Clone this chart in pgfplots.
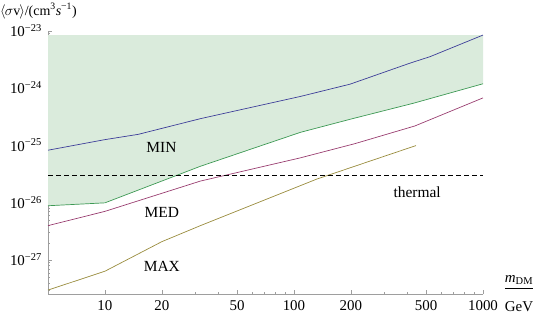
\documentclass[border=0pt]{standalone}
\usepackage{fontspec}
\setmainfont{Liberation Serif}
\usepackage{pgfplots}
\pgfplotsset{compat=1.18}
\definecolor{cMIN}{rgb}{0.24,0.24,0.6}
\definecolor{cMED}{rgb}{0.6,0.24,0.44}
\definecolor{cMAX}{rgb}{0.6,0.55,0.24}
\definecolor{cGRN}{rgb}{0.24,0.6,0.33}
\definecolor{cFILL}{rgb}{0.855,0.922,0.863}
\definecolor{cAX}{rgb}{0.62,0.62,0.62}
\begin{document}
\fontsize{15}{18}\selectfont
\begin{tikzpicture}
\begin{axis}[name=ax,
  scale only axis, width=435bp, height=263bp,
  xmode=log, ymode=log,
  xmin=5, xmax=1000, ymin=2.56e-28, ymax=1e-23,
  axis x line=bottom, axis y line=left,
  axis line style={-, draw=cAX, line width=0.8pt},
  tick style={draw=cAX, line width=0.6pt},
  tick align=inside,
  major tick length=4bp, minor tick length=2.2bp,
  xtick={10,20,50,100,200,500,1000},
  xticklabels={10,20,50,100,200,500,1000},
  minor xtick={30,40,60,70,80,90,300,400,600,700,800,900},
  ytick={1e-27,1e-26,1e-25,1e-24,1e-23},
  yticklabels={10\textsuperscript{−27},10\textsuperscript{−26},10\textsuperscript{−25},10\textsuperscript{−24},10\textsuperscript{−23}},
  minor ytick={3e-28,4e-28,5e-28,6e-28,7e-28,8e-28,9e-28,
    2e-27,3e-27,4e-27,5e-27,6e-27,7e-27,8e-27,9e-27,
    2e-26,3e-26,4e-26,5e-26,6e-26,7e-26,8e-26,9e-26,
    2e-25,3e-25,4e-25,5e-25,6e-25,7e-25,8e-25,9e-25,
    2e-24,3e-24,4e-24,5e-24,6e-24,7e-24,8e-24,9e-24},
  yticklabel style={anchor=base east, yshift=-5.5bp, xshift=-1bp},
  xticklabel style={yshift=-1bp},
  clip=false,
]
% filled region between green curve and top
\addplot[draw=none, fill=cFILL] coordinates {
 (5,8.9e-27) (10,1.0e-26) (32,4.35e-26) (108,1.7e-25) (200,2.9e-25) (430,5.5e-25) (1000,1.2e-24)
 (1000,8.5e-24) (5,8.5e-24)} -- cycle;
% MIN (blue)
\addplot[cMIN, line width=0.7pt] coordinates {
 (5,8.3e-26) (10,1.27e-25) (15,1.57e-25) (32,2.95e-25) (108,7.2e-25) (198,1.18e-24) (411,2.75e-24) (525,3.57e-24) (1000,8.5e-24)};
% green boundary
\addplot[cGRN, line width=0.7pt] coordinates {
 (5,8.9e-27) (10,1.0e-26) (32,4.35e-26) (108,1.7e-25) (200,2.9e-25) (430,5.5e-25) (1000,1.2e-24)};
% MED (magenta)
\addplot[cMED, line width=0.7pt] coordinates {
 (5,4.0e-27) (10,7.1e-27) (32,2.4e-26) (108,6.1e-26) (210,1.08e-25) (436,2.2e-25) (1000,6.8e-25)};
% MAX (olive)
\addplot[cMAX, line width=0.7pt] coordinates {
 (5,3.0e-28) (10,6.4e-28) (20,2.1e-27) (32,4.0e-27) (132,2.6e-26) (394,8.8e-26) (442,1.0e-25)};
% thermal
\addplot[black, line width=0.8pt, dash pattern=on 5bp off 3bp] coordinates {(5,3e-26) (1000,3e-26)};
\node at (axis cs:19.9,9.2e-26) {\fontsize{15.5}{18}\selectfont MIN};
\node at (axis cs:20,6.8e-27) {\fontsize{15.5}{18}\selectfont MED};
\node at (axis cs:20,7.7e-28) {\fontsize{15.5}{18}\selectfont MAX};
\node[anchor=base] at (axis cs:448,1.25e-26) {\fontsize{15.5}{18}\selectfont thermal};
\node[anchor=base west, inner sep=0pt] at (rel axis cs:0,1) [xshift=-48bp, yshift=16bp] {\fontsize{14}{17}\selectfont$\mathopen{\langle}\kern-1pt\sigma\mathrm{v}\kern-1pt\mathclose{\rangle}$/(cm\textsuperscript{3}\textit{s}\textsuperscript{−1})};
\node[anchor=base, inner sep=0pt] at (rel axis cs:1,0) [xshift=36bp, yshift=-17bp] {\begin{tabular}[b]{@{}c@{}}\textit{m}\textsubscript{DM}\\\hline\rule{0pt}{23bp}GeV\end{tabular}};
\end{axis}
\pgfresetboundingbox
\path[use as bounding box] ([shift={(-48bp,-21bp)}]ax.south west) rectangle ([shift={(57bp,31bp)}]ax.north east);
\end{tikzpicture}
\end{document}
